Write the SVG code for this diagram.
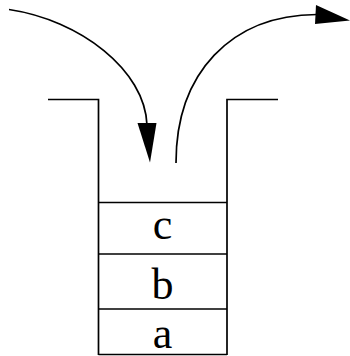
<svg xmlns="http://www.w3.org/2000/svg" width="350" height="356" viewBox="0 0 350 356">
<style>
.ln{fill:none;stroke:#000;stroke-width:1.7}
.hd{fill:#000;stroke:none}
.lbl{font-family:"Liberation Serif","Times New Roman",serif;font-size:44px;text-anchor:middle;fill:#000}
</style>
<rect width="350" height="356" fill="#fff"/>
<g id="stack">
<polyline class="ln" points="48,99.5 98.5,99.5 98.5,355"/>
<polyline class="ln" points="278,99.5 227,99.5 227,355"/>
<line class="ln" x1="98.5" y1="354.5" x2="227" y2="354.5"/>
</g>
<g id="node-c">
<line class="ln" x1="98.5" y1="202.5" x2="227" y2="202.5"/>
<text class="lbl" x="162.5" y="239">c</text>
</g>
<g id="node-b">
<line class="ln" x1="98.5" y1="254" x2="227" y2="254"/>
<text class="lbl" x="162.5" y="298.5">b</text>
</g>
<g id="node-a">
<line class="ln" x1="98.5" y1="309" x2="227" y2="309"/>
<text class="lbl" x="162.5" y="347.5">a</text>
</g>
<g id="connectors">
<path class="ln" d="M9,9.5 C80,20 145,70 147,125"/>
<polygon class="hd" points="137.5,123 156.5,123 150,162.5"/>
<path class="ln" d="M176,163 C176,73 231,15 317,14.5"/>
<polygon class="hd" points="316,5 315,24 350,20.5"/>
</g>
</svg>
